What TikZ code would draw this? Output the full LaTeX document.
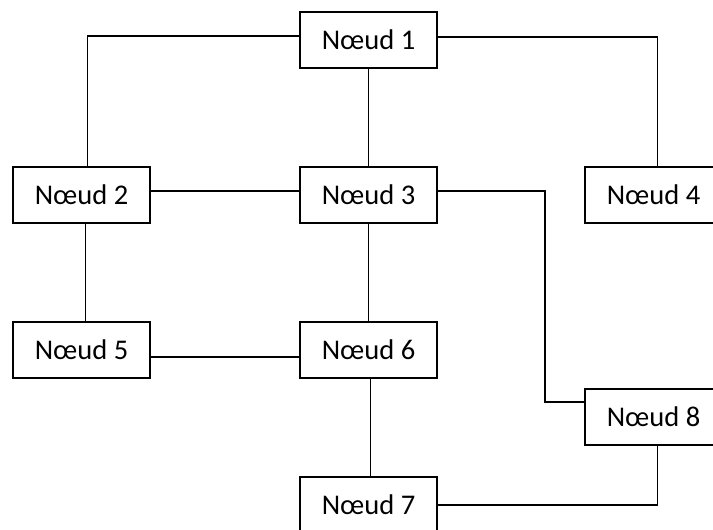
\documentclass[tikz,border=0pt]{standalone}
\usepackage{fontspec}
\setmainfont{Carlito}
\usetikzlibrary{positioning}

\begin{document}
\begin{tikzpicture}[x=1pt,y=-1pt,
    noeud/.style={draw, line width=1.5pt, minimum width=137pt, minimum height=56pt,
      inner sep=0pt, font=\fontsize{28.5}{34}\selectfont},
    lien/.style={line width=1.4pt}]
            \useasboundingbox (0,0) rectangle (713,530);
            \node [noeud] (n1) at (368.5,40) {Nœud 1};
            \node [noeud] (n2) at (81.5,195) {Nœud 2};
            \node [noeud] (n3) at (368.5,195) {Nœud 3};
            \node [noeud] (n4) at (653.5,195) {Nœud 4};
            \node [noeud] (n5) at (81.5,350) {Nœud 5};
            \node [noeud] (n6) at (368.5,350) {Nœud 6};
            \node [noeud] (n7) at (368.5,505) {Nœud 7};
            \node [noeud] (n8) at (653.5,417) {Nœud 8};
            \coordinate (k38) at (545,195);
            % liens
            \draw [lien] ([yshift=4pt]n1.west) -| ([xshift=6pt]n2.north);
            \draw [lien] ([yshift=3pt]n1.east) -| ([xshift=4pt]n4.north);
            \draw [lien] (n1) -- (n3);
            \draw [lien] ([yshift=4pt]n2.east) -- ([yshift=4pt]n3.west);
            \draw [lien] ([yshift=4pt]n3.east) -| ([yshift=4pt]k38) |- ([yshift=15pt]n8.west);
            \draw [lien] ([xshift=4pt]n2.south) -- ([xshift=4pt]n5.north);
            \draw [lien] (n3) -- (n6);
            \draw [lien] ([yshift=-7pt]n5.east) -- ([yshift=-7pt]n6.west);
            \draw [lien] ([xshift=2pt]n6.south) -- ([xshift=2pt]n7.north);
            \draw [lien] (n7.east) -| ([xshift=4pt]n8.south);
        \end{tikzpicture}
\end{document}
